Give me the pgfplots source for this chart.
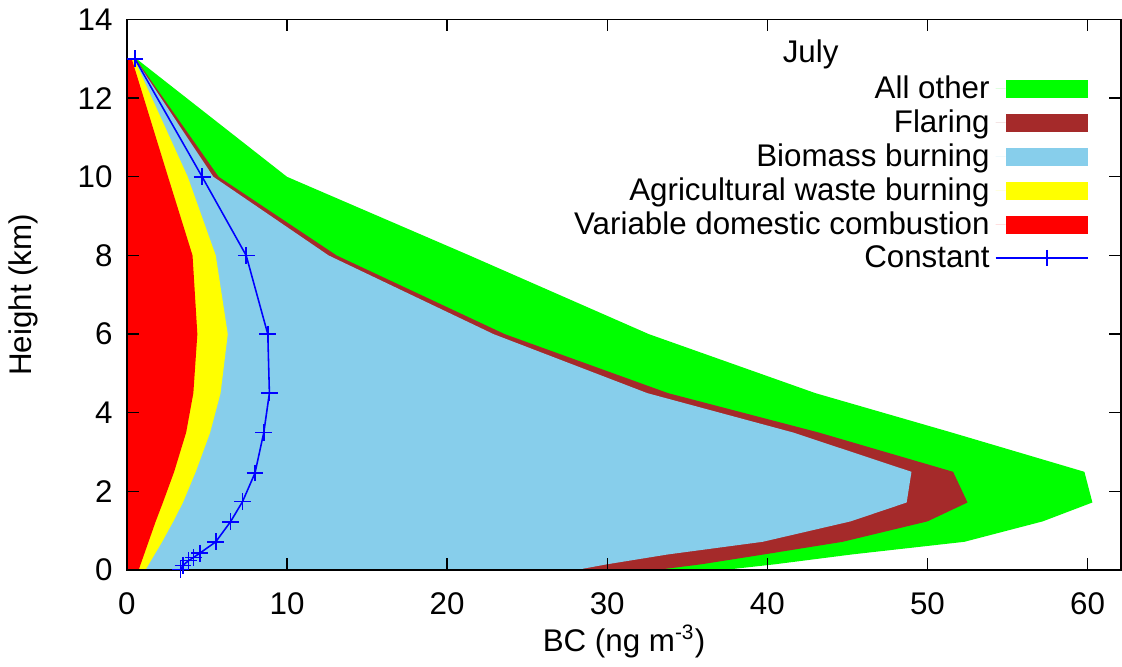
\documentclass[border=0pt]{standalone}
\usepackage{pgfplots}
\pgfplotsset{compat=1.18}
\usepackage{fontspec}
\setmainfont{Liberation Sans}
\definecolor{cgreen}{RGB}{0,255,0}
\definecolor{cbrown}{RGB}{165,42,42}
\definecolor{cblue}{RGB}{135,206,235}
\definecolor{cyellow}{RGB}{255,255,0}
\definecolor{cred}{RGB}{255,0,0}
\pgfplotsset{
  boxlegend/.style={legend image code/.code={\path (0cm,0cm) -- (0.135cm,0cm); \fill[##1] (0.135cm,-0.12cm) rectangle (1.245cm,0.12cm);}},
  constlegend/.style={legend image code/.code={\path (0cm,0cm) -- (0.135cm,0cm); \draw[mark repeat=2,mark phase=2,##1] plot coordinates {(0.135cm,0cm) (0.69cm,0cm) (1.245cm,0cm)};}},
}
\begin{document}
\begin{tikzpicture}
\begin{axis}[
  scale only axis,
  width=381pt, height=211pt,
  xmin=0, xmax=62.1, ymin=0, ymax=14,
  xtick={0,10,20,30,40,50,60},
  ytick={0,2,4,6,8,10,12,14},
  tick align=inside,
  major tick length=4.5pt,
  axis on top,
  axis line style={line width=0.6pt},
  every tick/.style={black, line width=0.5pt},
  /pgf/number format/assume math mode=true,
  tick label style={font=\fontsize{12}{14}\selectfont},
  xlabel={BC (ng m\textsuperscript{-3})},
  ylabel={Height (km)},
  xticklabel style={yshift=-5.2pt},
  yticklabel style={xshift=-2pt},
  every axis x label/.style={at={(axis description cs:0.5,0)}, anchor=center, yshift=-27.3pt, font=\fontsize{12}{14}\selectfont},
  every axis y label/.style={at={(axis description cs:0,0.5)}, anchor=center, rotate=90, yshift=39.7pt, font=\fontsize{12}{14}\selectfont},
  legend cell align=right,
  legend plot pos=right,
  legend style={at={(axis cs:60.6,12.85)}, anchor=north east, draw=none, fill=none,
    font=\fontsize{12}{14}\selectfont, row sep=-1.2pt},
]
% All other (cumulative total)
\addplot[fill=cgreen, draw=none, boxlegend] coordinates {
 (0,0) (37.2,0) (40.5,0.15) (45.3,0.4) (52.3,0.72) (57.2,1.24) (60.3,1.72) (59.8,2.5)
 (51.5,3.5) (43.0,4.5) (32.6,6) (21.4,8) (10.0,10) (0.6,13) (0,13)} -- cycle;
\addlegendentry{All other}
% Flaring (cumulative)
\addplot[fill=cbrown, draw=none, boxlegend] coordinates {
 (0,0) (33.0,0) (35.9,0.15) (39.8,0.4) (44.7,0.72) (50.0,1.24) (52.5,1.72) (51.6,2.5)
 (43.2,3.5) (33.8,4.5) (23.6,6) (13.1,8) (5.73,10) (0.55,13) (0,13)} -- cycle;
\addlegendentry{Flaring}
% Biomass burning (cumulative)
\addplot[fill=cblue, draw=none, boxlegend] coordinates {
 (0,0) (28.0,0) (30.0,0.15) (33.8,0.4) (39.7,0.72) (45.2,1.24) (48.7,1.72) (49.0,2.5)
 (41.6,3.5) (32.5,4.5) (22.9,6) (12.6,8) (5.4,10) (0.5,13) (0,13)} -- cycle;
\addlegendentry{Biomass burning}
% Agricultural waste burning (cumulative)
\addplot[fill=cyellow, draw=none, boxlegend] coordinates {
 (0,0) (1.15,0) (2.2,0.72) (2.9,1.24) (3.5,1.72) (4.3,2.5) (5.2,3.5) (5.85,4.5)
 (6.3,6) (5.55,8) (3.8,10) (0.45,13) (0,13)} -- cycle;
\addlegendentry{Agricultural waste burning}
% Variable domestic combustion
\addplot[fill=cred, draw=none, boxlegend] coordinates {
 (0,0) (0.73,0) (1.35,0.72) (1.8,1.24) (2.25,1.72) (2.95,2.5) (3.7,3.5) (4.15,4.5)
 (4.4,6) (4.1,8) (2.57,10) (0.3,13) (0,13)} -- cycle;
\addlegendentry{Variable domestic combustion}
% Constant
\addplot[blue, line width=0.6pt, mark=+, mark size=3.2pt, constlegend]
 coordinates {
 (3.35,0.02) (3.5,0.12) (3.85,0.24) (4.15,0.32) (4.55,0.43) (5.55,0.72) (6.47,1.23)
 (7.22,1.74) (8.0,2.47) (8.55,3.5) (8.9,4.5) (8.8,6) (7.45,8) (4.7,10) (0.5,13)};
\addlegendentry{Constant}
\node[font=\fontsize{12}{14}\selectfont] at (axis cs:42.7,13.1) {July};
\end{axis}
\end{tikzpicture}
\end{document}
